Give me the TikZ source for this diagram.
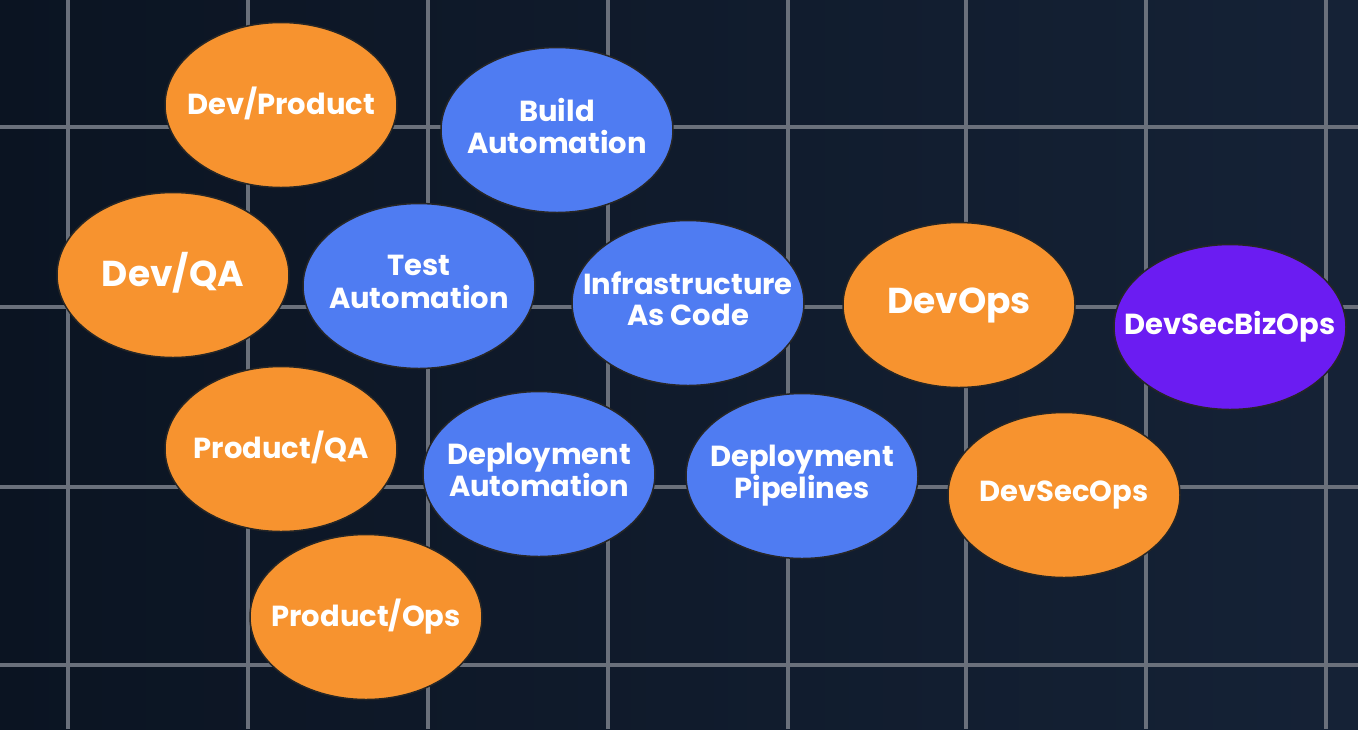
\documentclass[tikz,border=0pt]{standalone}
\usepackage{fontspec}
\setmainfont{Poppins}
\usetikzlibrary{shapes.geometric}
\definecolor{bgA}{HTML}{0B1422}
\definecolor{bgB}{HTML}{152236}
\definecolor{gridc}{HTML}{6A707B}
\definecolor{orng}{HTML}{F7932F}
\definecolor{blu}{HTML}{4F7CF2}
\definecolor{purp}{HTML}{6B1CF2}
\newcommand{\bubtext}[1]{\makebox[0pt][c]{\begin{tabular}{@{}c@{}}#1\end{tabular}}}
\tikzset{
  bubble/.style={ellipse, draw=black!85, line width=1.5pt, minimum width=232pt, minimum height=165pt, inner sep=0pt, text=white},
  orangebub/.style={bubble, fill=orng},
  bluebub/.style={bubble, fill=blu},
  purplebub/.style={bubble, fill=purp},
  txtM/.style={font=\fontsize{29}{30}\selectfont\bfseries},
  txtL/.style={font=\fontsize{36}{40}\selectfont\bfseries},
  gridline/.style={draw=gridc, line width=3.5pt}
}
\begin{document}
\begin{tikzpicture}[x=1pt,y=-1pt]
\useasboundingbox (0,0) rectangle (1358,729);
\shade[left color=bgA, right color=bgB] (0,0) rectangle (1358,729);
% grid
\foreach \gx in {68,248,428,608,788,966,1146,1326} \draw[gridline] (\gx,0) -- (\gx,729);
\foreach \gy in {127,307,487,665} \draw[gridline] (0,\gy) -- (1358,\gy);
% bubbles
\node[orangebub, txtM] (devprod) at (281,105) {\bubtext{Dev/Product}};
\node[bluebub, txtM] (build) at (557,130) {\bubtext{Build\\Automation}};
\node[orangebub, txtL] (devqa) at (173,275) {\bubtext{Dev/QA}};
\node[bluebub, txtM] (test) at (419,286) {\bubtext{Test\\Automation}};
\node[bluebub, txtM] (iac) at (688,303) {\bubtext{Infrastructure\\As Code}};
\node[orangebub, txtL] (devops) at (959,305) {\bubtext{DevOps}};
\node[purplebub, txtM] (bizops) at (1230,327) {\bubtext{DevSecBizOps}};
\node[orangebub, txtM] (prodqa) at (281,449) {\bubtext{Product/QA}};
\node[bluebub, txtM] (depauto) at (539,474) {\bubtext{Deployment\\Automation}};
\node[bluebub, txtM] (deppipe) at (802,476) {\bubtext{Deployment\\Pipelines}};
\node[orangebub, txtM] (devsecops) at (1064,495) {\bubtext{DevSecOps}};
\node[orangebub, txtM] (prodops) at (366,617) {\bubtext{Product/Ops}};
\end{tikzpicture}
\end{document}
